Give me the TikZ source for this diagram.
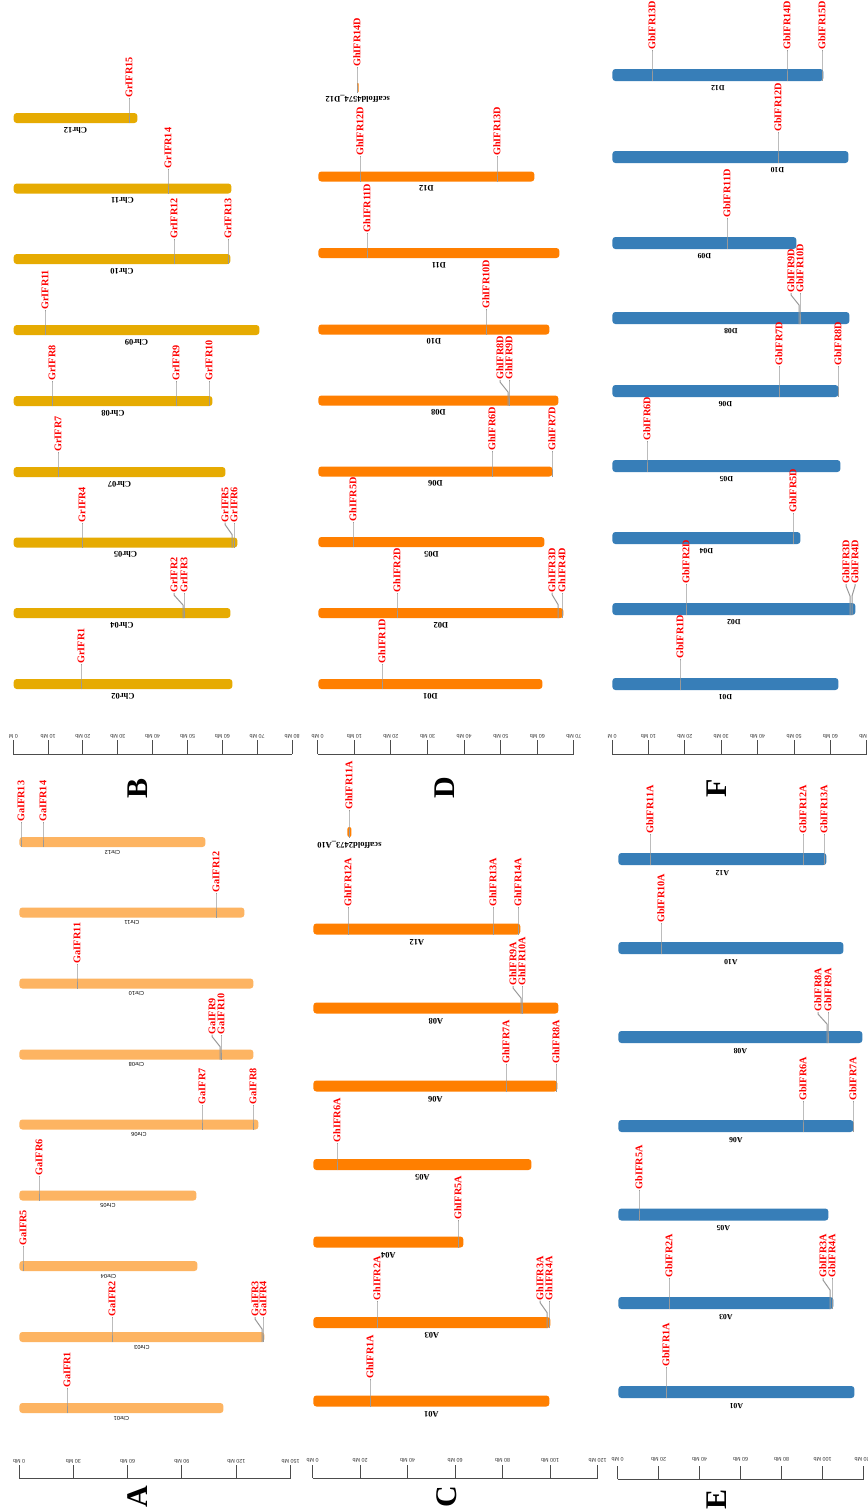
\documentclass[tikz,border=0pt]{standalone}
\usepackage{fontspec}
\setmainfont{Liberation Serif}
\setsansfont{Liberation Sans}
\usepackage{xcolor}
\usetikzlibrary{positioning}
\definecolor{gacolor}{HTML}{FDB462}
\definecolor{grcolor}{HTML}{E6AB02}
\definecolor{ghcolor}{HTML}{FF7F00}
\definecolor{gbcolor}{HTML}{377EB8}

\begin{document}
\begin{tikzpicture}[x=0.5pt,y=-0.5pt,
  chr/.style={anchor=west,inner sep=0pt,rounded corners=1.5pt,minimum height=5pt},
  chrA/.style={chr,fill=gacolor},
  chrB/.style={chr,fill=grcolor},
  chrC/.style={chr,fill=ghcolor,minimum height=5.5pt},
  chrD/.style={chr,fill=ghcolor},
  chrE/.style={chr,fill=gbcolor,minimum height=6pt},
  gene/.style={rotate=90,anchor=west,inner sep=0pt,text=red,
               font=\fontsize{5.1}{5.1}\selectfont\bfseries},
  glink/.style={draw=black!40,line width=0.5pt},
  cname/.style={rotate=180,inner sep=0pt,font=\fontsize{4.25}{4.25}\selectfont\bfseries},
  cnamesf/.style={rotate=180,inner sep=0pt,font=\sffamily\fontsize{2.8}{2.8}\selectfont},
  ticklab/.style={rotate=180,inner sep=0pt,text=black!80,
                  font=\sffamily\fontsize{2.7}{2.7}\selectfont},
  axis/.style={draw=black!70,line width=0.5pt},
  panel/.style={rotate=90,inner sep=0pt,font=\fontsize{15}{15}\selectfont\bfseries}]

\fill[white] (0,0) rectangle (868,1512);
\useasboundingbox (0,0) rectangle (868,1512);

% panel letters
\node[panel] (pA) at (138,1497) {A};
\node[panel] (pB) at (138,788)  {B};
\node[panel] (pC) at (447,1497) {C};
\node[panel] (pD) at (445,788)  {D};
\node[panel] (pE) at (717,1499) {E};
\node[panel] (pF) at (717,788)  {F};

% scale bars
\draw[axis] (19,1478) -- (290.7,1478);
\foreach \i/\lab in {0/0 Mb,1/30 Mb,2/60 Mb,3/90 Mb,4/120 Mb,5/150 Mb}{
  \draw[axis] (19+\i*54.33,1478) -- (19+\i*54.33,1465);
  \node[ticklab] (sA\i) at (19+\i*54.33,1461) {\lab};
}
\draw[axis] (13.3,754) -- (292,754);
\foreach \i/\lab in {0/0 M,1/10 Mb,2/20 Mb,3/30 Mb,4/40 Mb,5/50 Mb,6/60 Mb,7/70 Mb,8/80 Mb}{
  \draw[axis] (13.3+\i*34.84,754) -- (13.3+\i*34.84,740);
  \node[ticklab] (sB\i) at (13.3+\i*34.84,736) {\lab};
}
\draw[axis] (312.7,1478) -- (597.7,1478);
\foreach \i/\lab in {0/0 Mb,1/20 Mb,2/40 Mb,3/60 Mb,4/80 Mb,5/100 Mb,6/120 Mb}{
  \draw[axis] (312.7+\i*47.5,1478) -- (312.7+\i*47.5,1465);
  \node[ticklab] (sC\i) at (312.7+\i*47.5,1460) {\lab};
}
\draw[axis] (317.7,754) -- (574,754);
\foreach \i/\lab in {0/0 Mb,1/10 Mb,2/20 Mb,3/30 Mb,4/40 Mb,5/50 Mb,6/60 Mb,7/70 Mb}{
  \draw[axis] (317.7+\i*36.61,754) -- (317.7+\i*36.61,740);
  \node[ticklab] (sD\i) at (317.7+\i*36.61,736) {\lab};
}
\draw[axis] (617.7,1479) -- (863.7,1479);
\foreach \i/\lab in {0/0 Mb,1/20 Mb,2/40 Mb,3/60 Mb,4/80 Mb,5/100 Mb,6/120 Mb}{
  \draw[axis] (617.7+\i*41,1479) -- (617.7+\i*41,1466);
  \node[ticklab] (sE\i) at (617.7+\i*41,1459) {\lab};
}
\draw[axis] (612,754) -- (866.8,754);
\foreach \i/\lab in {0/0 M,1/10 Mb,2/20 Mb,3/30 Mb,4/40 Mb,5/50 Mb,6/60 Mb,7/70 Mb}{
  \draw[axis] (612+\i*36.4,754) -- (612+\i*36.4,740);
  \node[ticklab] (sF\i) at (612+\i*36.4,736) {\lab};
}

% A: G. arboreum
\foreach \ch/\xe/\yc in {Chr01/223/1408,Chr03/264/1337,Chr04/197/1266,Chr05/196/1195.5,
    Chr06/258/1124.5,Chr08/253/1054.5,Chr10/253/983.5,Chr11/244/912.5,Chr12/205/842}{
  \node[chrA,minimum width={(\xe-19)*0.5pt}] (A-\ch) at (19,\yc) {};
  \node[cnamesf] (A-\ch-n) at ([yshift=-5pt]A-\ch.center) {\ch};
}
\foreach \xb/\xl/\yc/\g in {67/67/1408/GaIFR1,112/112/1337/GaIFR2,262/255/1337/GaIFR3,
    263/263/1337/GaIFR4,23/23/1266/GaIFR5,39/39/1195.5/GaIFR6,202/202/1124.5/GaIFR7,
    253/253/1124.5/GaIFR8,220/212/1054.5/GaIFR9,221/221/1054.5/GaIFR10,77/77/983.5/GaIFR11,
    216/216/912.5/GaIFR12,21/21/842/GaIFR13,43/43/842/GaIFR14}{
  \node[gene] (\g) at (\xl,\yc-20) {\g};
  \draw[glink] (\xb,\yc+5) -- (\xb,\yc-8) -- (\xl,\yc-18) -- (\g.west);
}

% B: G. raimondii
\foreach \ch/\xe/\yc in {Chr02/232/684,Chr04/230/613,Chr05/237/542.5,Chr07/225/472,
    Chr08/212/401,Chr09/259/330,Chr10/230/259,Chr11/231/188.5,Chr12/137/118}{
  \node[chrB,minimum width={(\xe-13.3)*0.5pt}] (B-\ch) at (13.3,\yc) {};
  \node[cname] (B-\ch-n) at ([yshift=-6pt]B-\ch.center) {\ch};
}
\foreach \xb/\xl/\yc/\g in {81/81/684/GrIFR1,183/174/613/GrIFR2,184/184/613/GrIFR3,
    82/82/542.5/GrIFR4,232/225/542.5/GrIFR5,234/234/542.5/GrIFR6,58/58/472/GrIFR7,
    52/52/401/GrIFR8,176/176/401/GrIFR9,209/209/401/GrIFR10,45/45/330/GrIFR11,
    174/174/259/GrIFR12,228/228/259/GrIFR13,168/168/188.5/GrIFR14,129/129/118/GrIFR15}{
  \node[gene] (\g) at (\xl,\yc-20) {\g};
  \draw[glink] (\xb,\yc+5) -- (\xb,\yc-8) -- (\xl,\yc-18) -- (\g.west);
}

% C: G. hirsutum At
\foreach \ch/\xe/\yc in {A01/549/1401,A03/550/1322.5,A04/463/1242,A05/531/1164.5,
    A06/557/1086,A08/558/1008,A12/520/929}{
  \node[chrC,minimum width={(\xe-313)*0.5pt}] (C-\ch) at (313,\yc) {};
  \node[cname] (C-\ch-n) at ([yshift=-6.5pt]C-\ch.center) {\ch};
}
\node[chrC,minimum width=2pt,minimum height=5pt,rounded corners=1pt] (C-scf) at (347,832) {};
\node[cname] (C-scf-n) at ([yshift=-6.5pt]C-scf.center) {scaffold2473\_A10};
\foreach \xb/\xl/\yc/\g in {370/370/1401/GhIFR1A,377/377/1322.5/GhIFR2A,547/540/1322.5/GhIFR3A,
    549/549/1322.5/GhIFR4A,458/458/1242/GhIFR5A,337/337/1164.5/GhIFR6A,506/506/1086/GhIFR7A,
    556/556/1086/GhIFR8A,521/513/1008/GhIFR9A,522/522/1008/GhIFR10A,349/349/832/GhIFR11A,
    348/348/929/GhIFR12A,493/493/929/GhIFR13A,518/518/929/GhIFR14A}{
  \node[gene] (\g) at (\xl,\yc-22) {\g};
  \draw[glink] (\xb,\yc+5.5) -- (\xb,\yc-10) -- (\xl,\yc-20) -- (\g.west);
}

% D: G. hirsutum Dt
\foreach \ch/\xe/\yc in {D01/542/684,D02/563/613,D05/544/542,D06/552/471.5,D08/558/400.5,
    D10/549/329.5,D11/559/253,D12/534/176.5}{
  \node[chrD,minimum width={(\xe-318)*0.5pt}] (D-\ch) at (318,\yc) {};
  \node[cname] (D-\ch-n) at ([yshift=-6pt]D-\ch.center) {\ch};
}
\node[chrD,minimum width=0.8pt,minimum height=4.5pt,rounded corners=0.3pt] (D-scf) at (356.6,87.5) {};
\node[cname] (D-scf-n) at ([yshift=-5.8pt]D-scf.center) {scaffold4574\_D12};
\foreach \xb/\xl/\yc/\g in {382/382/684/GhIFR1D,397/397/613/GhIFR2D,558/552/613/GhIFR3D,
    562/562/613/GhIFR4D,353/353/542/GhIFR5D,492/492/471.5/GhIFR6D,552/552/471.5/GhIFR7D,
    508/500/400.5/GhIFR8D,509/509/400.5/GhIFR9D,486/486/329.5/GhIFR10D,367/367/253/GhIFR11D,
    360/360/176.5/GhIFR12D,497/497/176.5/GhIFR13D,357/357/87.5/GhIFR14D}{
  \node[gene] (\g) at (\xl,\yc-20.5) {\g};
  \draw[glink] (\xb,\yc+5) -- (\xb,\yc-8.5) -- (\xl,\yc-18.5) -- (\g.west);
}

% E: G. barbadense At
\foreach \ch/\xe/\yc in {A01/854/1392,A03/833/1303,A05/828/1214.5,A06/853/1126,
    A08/862/1037,A10/843/948,A12/826/859}{
  \node[chrE,minimum width={(\xe-618)*0.5pt}] (E-\ch) at (618,\yc) {};
  \node[cname,font=\fontsize{3.9}{3.9}\selectfont\bfseries] (E-\ch-n) at ([yshift=-7pt]E-\ch.center) {\ch};
}
\foreach \xb/\xl/\yc/\g in {666/666/1392/GbIFR1A,669/669/1303/GbIFR2A,830/823/1303/GbIFR3A,
    832/832/1303/GbIFR4A,639/639/1214.5/GbIFR5A,803/803/1126/GbIFR6A,853/853/1126/GbIFR7A,
    827/818/1037/GbIFR8A,828/828/1037/GbIFR9A,661/661/948/GbIFR10A,650/650/859/GbIFR11A,
    803/803/859/GbIFR12A,824/824/859/GbIFR13A}{
  \node[gene] (\g) at (\xl,\yc-25) {\g};
  \draw[glink] (\xb,\yc+6) -- (\xb,\yc-13) -- (\xl,\yc-23) -- (\g.west);
}

% F: G. barbadense Dt
\foreach \ch/\xe/\yc/\dx in {D01/838/684/0,D02/855/609/0,D04/800/538/0,D05/840/466/0,
    D06/838/391/0,D08/849/318/0,D09/796/243/0,D10/848/157/23.5,D12/823/75/0}{
  \node[chrE,minimum width={(\xe-612)*0.5pt}] (F-\ch) at (612,\yc) {};
  \node[cname,font=\fontsize{3.9}{3.9}\selectfont\bfseries] (F-\ch-n)
    at ([xshift=\dx pt,yshift=-6.5pt]F-\ch.center) {\ch};
}
\foreach \xb/\xl/\yc/\g in {680/680/684/GbIFR1D,686/686/609/GbIFR2D,850/846/609/GbIFR3D,
    852/855/609/GbIFR4D,793/793/538/GbIFR5D,647/647/466/GbIFR6D,779/779/391/GbIFR7D,
    838/838/391/GbIFR8D,799/791/318/GbIFR9D,800/800/318/GbIFR10D,727/727/243/GbIFR11D,
    778/778/157/GbIFR12D,652/652/75/GbIFR13D,787/787/75/GbIFR14D,822/822/75/GbIFR15D}{
  \node[gene] (\g) at (\xl,\yc-25) {\g};
  \draw[glink] (\xb,\yc+6) -- (\xb,\yc-13) -- (\xl,\yc-23) -- (\g.west);
}
\end{tikzpicture}
\end{document}
